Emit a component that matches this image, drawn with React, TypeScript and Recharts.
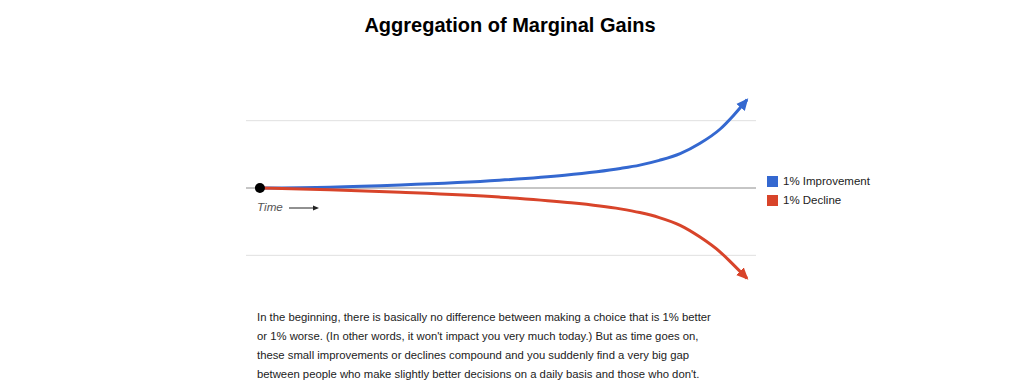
import React from 'react';
import { LineChart, Line, XAxis, YAxis, ReferenceLine, ReferenceDot } from 'recharts';

const time = [0, 5.0, 10.1, 17.2, 21.9, 25.9, 27.3, 28.7, 30.2, 31.6, 33.1, 34.0, 35.0];
const improvement = [0, 0.012, 0.045, 0.115, 0.19, 0.29, 0.34, 0.41, 0.51, 0.66, 0.88, 1.07, 1.31];
const decline = [0, -0.025, -0.064, -0.135, -0.21, -0.31, -0.365, -0.44, -0.555, -0.725, -0.955, -1.135, -1.34];
const seriesNames = ['1% Improvement', '1% Decline'];
const seriesColors = ['#3468d0', '#d8442a'];
const gridValues = [-1, 1];

const title = 'Aggregation of Marginal Gains';
const paragraphLines = [
  'In the beginning, there is basically no difference between making a choice that is 1% better',
  "or 1% worse. (In other words, it won't impact you very much today.) But as time goes on,",
  'these small improvements or declines compound and you suddenly find a very big gap',
  "between people who make slightly better decisions on a daily basis and those who don't.",
];

const data = time.map((t, i) => ({ t, up: improvement[i], down: decline[i] }));

const font = '"Liberation Sans", Arial, Helvetica, sans-serif';

const LegendBox = () => (
  <div style={{ position: 'absolute', left: 767, top: 174, fontFamily: font }}>
    {seriesNames.map((name, i) => (
      <div key={name} style={{ position: 'relative', height: 19, width: 140 }}>
        <div
          style={{
            position: 'absolute',
            left: 0,
            top: 2,
            width: 11,
            height: 11,
            background: seriesColors[i],
          }}
        />
        <span
          style={{
            position: 'absolute',
            left: 16,
            top: 0,
            fontSize: 11.5,
            lineHeight: '15px',
            color: '#222',
            whiteSpace: 'nowrap',
          }}
        >
          {name}
        </span>
      </div>
    ))}
  </div>
);

export default function App() {
  return (
    <div
      style={{
        position: 'absolute',
        left: 0,
        top: 0,
        width: 1024,
        height: 391,
        background: '#fff',
        fontFamily: font,
        overflow: 'hidden',
      }}
    >
      <div
        style={{
          position: 'absolute',
          left: 0,
          top: 13,
          width: 1020,
          textAlign: 'center',
          fontSize: 20,
          lineHeight: '24px',
          fontWeight: 'bold',
          color: '#000',
        }}
      >
        {title}
      </div>
      <div style={{ position: 'absolute', left: 0, top: 0 }}>
        <LineChart
          width={1024}
          height={300}
          data={data}
          margin={{ top: 87, right: 268, bottom: 11, left: 246 }}
        >
          <defs>
            <marker
              id="arrowUp"
              viewBox="0 0 12 12"
              markerWidth={12}
              markerHeight={12}
              refX={10}
              refY={6}
              orient="auto"
              markerUnits="userSpaceOnUse"
            >
              <path d="M0,0.5 L12,6 L0,11.5 z" fill={seriesColors[0]} />
            </marker>
            <marker
              id="arrowDown"
              viewBox="0 0 12 12"
              markerWidth={12}
              markerHeight={12}
              refX={10}
              refY={6}
              orient="auto"
              markerUnits="userSpaceOnUse"
            >
              <path d="M0,0.5 L12,6 L0,11.5 z" fill={seriesColors[1]} />
            </marker>
          </defs>
          <XAxis dataKey="t" type="number" domain={[-1.0, 35.65]} hide allowDataOverflow />
          <YAxis type="number" domain={[-1.5, 1.5]} hide allowDataOverflow />
          {gridValues.map((v) => (
            <ReferenceLine key={v} y={v} stroke="#e0e0e0" strokeWidth={1} />
          ))}
          <ReferenceLine y={0} stroke="#8c8c8c" strokeWidth={1} />
          <Line
            dataKey="up"
            name={seriesNames[0]}
            type="monotone"
            stroke={seriesColors[0]}
            strokeWidth={3}
            dot={false}
            activeDot={false}
            isAnimationActive={false}
            markerEnd="url(#arrowUp)"
          />
          <Line
            dataKey="down"
            name={seriesNames[1]}
            type="monotone"
            stroke={seriesColors[1]}
            strokeWidth={3}
            dot={false}
            activeDot={false}
            isAnimationActive={false}
            markerEnd="url(#arrowDown)"
          />
          <ReferenceDot x={0} y={0} r={5} fill="#000" stroke="none" />
        </LineChart>
      </div>
      <LegendBox />
      <div
        style={{
          position: 'absolute',
          left: 257,
          top: 200,
          fontSize: 11.7,
          lineHeight: '14px',
          fontStyle: 'italic',
          color: '#555',
        }}
      >
        Time
      </div>
      <svg
        style={{ position: 'absolute', left: 289, top: 204 }}
        width={31}
        height={8}
      >
        <line x1={0} y1={4} x2={25} y2={4} stroke="#222" strokeWidth={1} />
        <polygon points="24,1.5 30,4 24,6.5" fill="#222" />
      </svg>
      <div
        style={{
          position: 'absolute',
          left: 257,
          top: 307.5,
          fontSize: 11.3,
          lineHeight: '19px',
          color: '#222',
          whiteSpace: 'nowrap',
        }}
      >
        {paragraphLines.map((l, i) => (
          <div key={i}>{l}</div>
        ))}
      </div>
    </div>
  );
}
